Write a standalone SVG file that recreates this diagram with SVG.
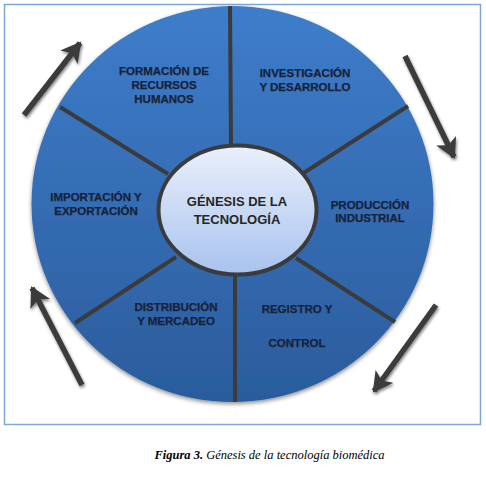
<svg xmlns="http://www.w3.org/2000/svg" width="486" height="477" viewBox="0 0 486 477">
<defs>
<style>
.lbl{font-family:"Liberation Sans",Arial,sans-serif;font-weight:bold;font-size:11.5px;fill:#17223a;text-anchor:middle;stroke:#17223a;stroke-width:0.25}
.ctr{font-family:"Liberation Sans",Arial,sans-serif;font-weight:bold;font-size:13px;fill:#262626;text-anchor:middle}
.spoke{stroke:#3b3b3b;stroke-width:4;fill:none}
.arr{stroke:#3a3a3a;stroke-width:5.5;fill:none;marker-end:url(#ah);filter:url(#sh)}
.cap{font-family:"Liberation Serif","Times New Roman","DejaVu Serif",serif;font-style:italic;font-size:12.5px;fill:#000;text-anchor:middle}
</style>
<linearGradient id="gOuter" x1="0" y1="0" x2="0" y2="1">
<stop offset="0" stop-color="#3e7dcb"/>
<stop offset="1" stop-color="#2b5c9c"/>
</linearGradient>
<linearGradient id="gInner" x1="0" y1="0" x2="0" y2="1">
<stop offset="0" stop-color="#eaf0fb"/>
<stop offset="1" stop-color="#a8c3ee"/>
</linearGradient>
<marker id="ah" markerUnits="userSpaceOnUse" markerWidth="24" markerHeight="24" refX="18" refY="11" orient="auto">
<path d="M0,0 L20,11 L0,22 L5,11 Z" fill="#3a3a3a"/>
</marker>
<filter id="sh" x="-30%" y="-30%" width="160%" height="160%">
<feGaussianBlur in="SourceAlpha" stdDeviation="1.5"/>
<feOffset dx="1" dy="2" result="b"/>
<feComponentTransfer><feFuncA type="linear" slope="0.5"/></feComponentTransfer>
<feMerge><feMergeNode/><feMergeNode in="SourceGraphic"/></feMerge>
</filter>
<filter id="sh2" x="-10%" y="-10%" width="120%" height="120%">
<feGaussianBlur in="SourceAlpha" stdDeviation="2"/>
<feOffset dx="0" dy="2"/>
<feComponentTransfer><feFuncA type="linear" slope="0.45"/></feComponentTransfer>
<feMerge><feMergeNode/><feMergeNode in="SourceGraphic"/></feMerge>
</filter>
</defs>
<rect x="0" y="0" width="486" height="477" fill="#fff"/>
<rect x="4.5" y="4.5" width="476" height="420" fill="none" stroke="#7ea6d8" stroke-width="1.5"/>

<g id="wheel">
<ellipse cx="232.5" cy="204" rx="201" ry="198" fill="url(#gOuter)" filter="url(#sh2)"/>
</g>

<g id="spokes">
<line class="spoke" x1="230" y1="6" x2="231" y2="146"/>
<line class="spoke" x1="60" y1="107" x2="168" y2="174"/>
<line class="spoke" x1="408" y1="106" x2="302" y2="174"/>
<line class="spoke" x1="75" y1="323" x2="176" y2="257"/>
<line class="spoke" x1="296" y1="258" x2="395" y2="322"/>
<line class="spoke" x1="235" y1="274" x2="235" y2="402"/>
</g>

<g id="center">
<ellipse cx="237.5" cy="210" rx="79" ry="64.5" fill="url(#gInner)" stroke="#3b3b3b" stroke-width="4"/>
<text class="ctr" x="237" y="206">GÉNESIS DE LA</text>
<text class="ctr" x="237" y="224">TECNOLOGÍA</text>
</g>

<g id="formacion">
<text class="lbl" x="164" y="75">FORMACIÓN DE</text>
<text class="lbl" x="164" y="89">RECURSOS</text>
<text class="lbl" x="164" y="103">HUMANOS</text>
</g>
<g id="investigacion">
<text class="lbl" x="305" y="77">INVESTIGACIÓN</text>
<text class="lbl" x="305" y="91">Y DESARROLLO</text>
</g>
<g id="produccion">
<text class="lbl" x="370" y="209">PRODUCCIÓN</text>
<text class="lbl" x="370" y="222">INDUSTRIAL</text>
</g>
<g id="registro">
<text class="lbl" x="297" y="313">REGISTRO Y</text>
<text class="lbl" x="297" y="347">CONTROL</text>
</g>
<g id="distribucion">
<text class="lbl" x="176" y="311">DISTRIBUCIÓN</text>
<text class="lbl" x="176" y="325">Y MERCADEO</text>
</g>
<g id="importacion">
<text class="lbl" x="96" y="201">IMPORTACIÓN Y</text>
<text class="lbl" x="96" y="215">EXPORTACIÓN</text>
</g>

<g id="connectors">
<line class="arr" x1="24" y1="115" x2="80" y2="43"/>
<line class="arr" x1="405" y1="56" x2="454" y2="157"/>
<line class="arr" x1="436" y1="305" x2="374" y2="391"/>
<line class="arr" x1="82" y1="385" x2="32" y2="288"/>
</g>

<text class="cap" x="269.5" y="459"><tspan font-weight="bold">Figura 3.</tspan> Génesis de la tecnología biomédica</text>
</svg>
